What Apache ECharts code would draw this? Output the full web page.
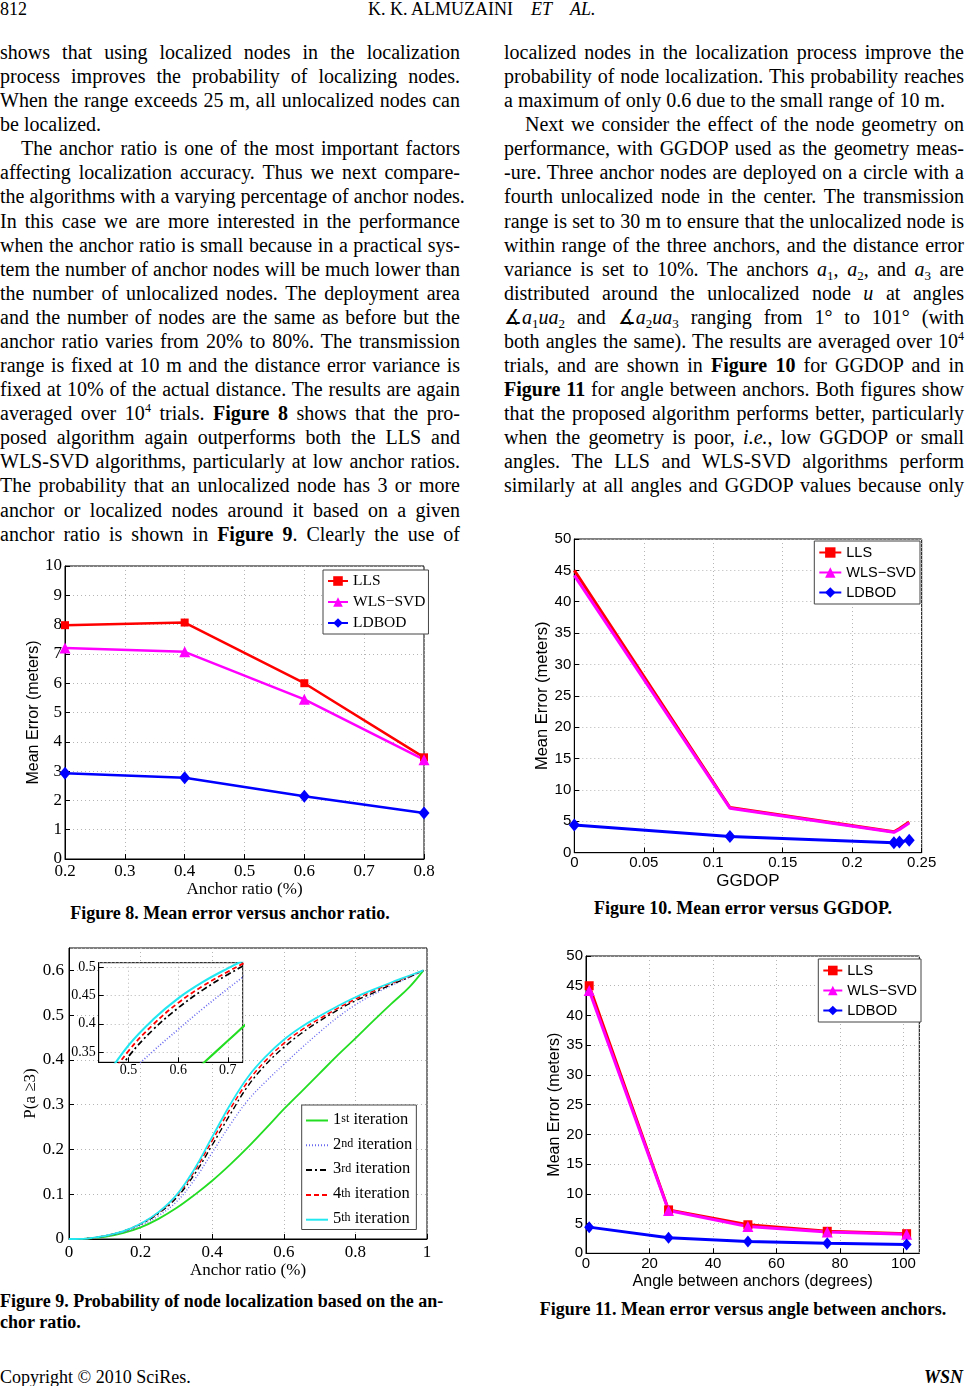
<!DOCTYPE html>
<html><head><meta charset="utf-8">
<script src="https://cdn.jsdelivr.net/npm/echarts@6/dist/echarts.min.js"></script>
<style>
html,body{margin:0;padding:0;background:#fff;}
#page{position:relative;width:966px;height:1386px;overflow:hidden;font-family:"Liberation Serif","Times New Roman",serif;color:#000;}
.ln{position:absolute;font-size:20px;line-height:24.08px;height:24.08px;white-space:nowrap;}
.ln sup{font-size:12px;position:relative;top:-8px;vertical-align:baseline;line-height:0}
.ln sub{font-size:13px;position:relative;top:4px;vertical-align:baseline;line-height:0}
.hd{position:absolute;font-size:18px;line-height:18px;white-space:nowrap;top:0}
.cap{position:absolute;font-weight:bold;font-size:18px;white-space:nowrap;line-height:21px}
#chart{position:absolute;left:0;top:0;width:966px;height:1386px;}
</style></head><body><div id="page">
<div class="hd" style="left:0">812</div>
<div class="hd" style="left:368px">K. K. ALMUZAINI</div>
<div class="hd" style="left:531px;font-style:italic">ET</div>
<div class="hd" style="left:570px;font-style:italic">AL.</div>
<div class="cap" style="left:0;width:460px;text-align:center;top:903.4px">Figure 8. Mean error versus anchor ratio.</div>
<div class="cap" style="left:504px;width:478px;text-align:center;top:898.4px">Figure 10. Mean error versus GGDOP.</div>
<div class="cap" style="left:0;top:1291.4px">Figure 9. Probability of node localization based on the an-</div>
<div class="cap" style="left:0;top:1312.4px">chor ratio.</div>
<div class="cap" style="left:504px;width:478px;text-align:center;top:1299.4px">Figure 11. Mean error versus angle between anchors.</div>
<div class="hd" style="left:0;top:1368px">Copyright © 2010 SciRes.</div>
<div class="hd" style="right:3px;top:1368px;font-weight:bold;font-style:italic">WSN</div>
<div id="chart"></div>
</div>
<script>
// ---------- body text ----------
const leftLines = [
 ["shows that using localized nodes in the localization",1,0],
 ["process improves the probability of localizing nodes.",1,0],
 ["When the range exceeds 25 m, all unlocalized nodes can",1,0],
 ["be localized.",0,0],
 ["The anchor ratio is one of the most important factors",1,1],
 ["affecting localization accuracy. Thus we next compare-",1,0],
 ["the algorithms with a varying percentage of anchor nodes.",1,0],
 ["In this case we are more interested in the performance",1,0],
 ["when the anchor ratio is small because in a practical sys-",1,0],
 ["tem the number of anchor nodes will be much lower than",1,0],
 ["the number of unlocalized nodes. The deployment area",1,0],
 ["and the number of nodes are the same as before but the",1,0],
 ["anchor ratio varies from 20% to 80%. The transmission",1,0],
 ["range is fixed at 10 m and the distance error variance is",1,0],
 ["fixed at 10% of the actual distance. The results are again",1,0],
 ["averaged over 10<sup>4</sup> trials. <b>Figure 8</b> shows that the pro-",1,0],
 ["posed algorithm again outperforms both the LLS and",1,0],
 ["WLS-SVD algorithms, particularly at low anchor ratios.",1,0],
 ["The probability that an unlocalized node has 3 or more",1,0],
 ["anchor or localized nodes around it based on a given",1,0],
 ["anchor ratio is shown in <b>Figure 9</b>. Clearly the use of",1,0]
];
const rightLines = [
 ["localized nodes in the localization process improve the",1,0],
 ["probability of node localization. This probability reaches",1,0],
 ["a maximum of only 0.6 due to the small range of 10 m.",0,0],
 ["Next we consider the effect of the node geometry on",1,1],
 ["performance, with GGDOP used as the geometry meas-",1,0],
 ["-ure. Three anchor nodes are deployed on a circle with a",1,0],
 ["fourth unlocalized node in the center. The transmission",1,0],
 ["range is set to 30 m to ensure that the unlocalized node is",1,0],
 ["within range of the three anchors, and the distance error",1,0],
 ["variance is set to 10%. The anchors <i>a</i><sub>1</sub>, <i>a</i><sub>2</sub>, and <i>a</i><sub>3</sub> are",1,0],
 ["distributed around the unlocalized node <i>u</i> at angles",1,0],
 ["\u2221<i>a</i><sub>1</sub><i>ua</i><sub>2</sub> and \u2221<i>a</i><sub>2</sub><i>ua</i><sub>3</sub> ranging from 1\u00b0 to 101\u00b0 (with",1,0],
 ["both angles the same). The results are averaged over 10<sup>4</sup>",1,0],
 ["trials, and are shown in <b>Figure 10</b> for GGDOP and in",1,0],
 ["<b>Figure 11</b> for angle between anchors. Both figures show",1,0],
 ["that the proposed algorithm performs better, particularly",1,0],
 ["when the geometry is poor, <i>i.e.</i>, low GGDOP or small",1,0],
 ["angles. The LLS and WLS-SVD algorithms perform",1,0],
 ["similarly at all angles and GGDOP values because only",1,0]
];
const page = document.getElementById('page');
function layoutLines(lines, left, width){
  lines.forEach((l,i)=>{
    const d = document.createElement('div');
    d.className='ln';
    const ind = l[2]?21:0;
    d.style.left=(left+ind)+'px';
    d.style.top=(40+i*24.08)+'px';
    d.innerHTML=l[0];
    page.insertBefore(d, document.getElementById('chart'));
    if(l[1]){
      const w=d.getBoundingClientRect().width;
      const n=(d.textContent.match(/ /g)||[]).length;
      const t=width-ind;
      if(n && w<t) d.style.wordSpacing=((t-w)/n)+'px';
    }
  });
}
layoutLines(leftLines,0,460);
layoutLines(rightLines,504,460);

// ---------- chart data ----------
const fig8X = [0.2, 0.4, 0.6, 0.8];
const fig8LLS = [7.98, 8.07, 6.0, 3.47];
const fig8WLS = [7.2, 7.07, 5.45, 3.39];
const fig8LDBOD = [2.93, 2.77, 2.14, 1.57];

const fig9X = [0, 0.05, 0.1, 0.15, 0.2, 0.25, 0.3, 0.35, 0.4, 0.45, 0.5, 0.55, 0.6, 0.65, 0.7, 0.75, 0.8, 0.85, 0.9, 0.95, 0.99];
const fig9It1 = [0, 0.001, 0.005, 0.013, 0.026, 0.045, 0.069, 0.098, 0.13, 0.166, 0.205, 0.247, 0.29, 0.33, 0.37, 0.41, 0.448, 0.487, 0.525, 0.562, 0.6];
const fig9It2 = [0, 0.001, 0.006, 0.015, 0.03, 0.052, 0.083, 0.132, 0.193, 0.255, 0.31, 0.352, 0.39, 0.427, 0.462, 0.495, 0.523, 0.546, 0.566, 0.584, 0.6];
const fig9It3 = [0, 0.001, 0.007, 0.017, 0.033, 0.057, 0.092, 0.144, 0.21, 0.278, 0.342, 0.39, 0.428, 0.46, 0.487, 0.511, 0.532, 0.55, 0.568, 0.585, 0.6];
const fig9It4 = [0, 0.001, 0.007, 0.017, 0.034, 0.059, 0.096, 0.151, 0.22, 0.29, 0.352, 0.399, 0.437, 0.467, 0.492, 0.515, 0.536, 0.554, 0.571, 0.587, 0.6];
const fig9It5 = [0, 0.001, 0.007, 0.017, 0.034, 0.06, 0.098, 0.156, 0.228, 0.3, 0.362, 0.408, 0.445, 0.474, 0.498, 0.52, 0.54, 0.557, 0.573, 0.588, 0.6];
const fig9Ordinals = [['1','st'],['2','nd'],['3','rd'],['4','th'],['5','th']];

const fig10X = [0, 0.112, 0.23, 0.234, 0.241];
const fig10LLS = [45.0, 7.2, 3.35, 3.85, 4.9];
const fig10WLS = [44.2, 7.1, 3.25, 3.7, 4.75];
const fig10LDBOD = [4.4, 2.6, 1.6, 1.7, 2.0];

const fig11X = [1, 26, 51, 76, 101];
const fig11LLS = [45.0, 7.3, 4.8, 3.7, 3.3];
const fig11WLS = [44.2, 7.2, 4.5, 3.6, 3.2];
const fig11LDBOD = [4.4, 2.6, 2.0, 1.7, 1.5];

// ---------- chart ----------
const SERIF='Liberation Serif', SANS='Liberation Sans';
const RED='#ff0000', MAG='#ff00ff', BLU='#0000ff';
function pairs(xs, ys){ return xs.map((x,i)=>[x, ys[i]]); }
function grid(l,t,w,h,extra){ return Object.assign({left:l,top:t,width:w,height:h,show:true,borderColor:'#000',borderWidth:1,outerBoundsMode:'none',containLabel:false}, extra||{}); }
function ax(gi, font, size, o){
  return Object.assign({
    gridIndex:gi, type:'value',
    axisLine:{show:true,lineStyle:{color:'#000',width:1}},
    axisTick:{show:true,inside:true,length:5,lineStyle:{color:'#000'}},
    axisLabel:{color:'#000',fontFamily:font,fontSize:size,margin:4},
    splitLine:{show:true,lineStyle:{type:[1,3],color:'#b5b5b5',width:1}},
    nameLocation:'middle',
    nameTextStyle:{color:'#000',fontFamily:font,fontSize:size+1}
  }, o);
}
const xAxes = [
  ax(0, SERIF, 17, {min:0.2,max:0.8,interval:0.1,name:'Anchor ratio (%)',nameGap:19,axisLabel:{color:'#000',fontFamily:SERIF,fontSize:17,margin:4},nameTextStyle:{color:'#000',fontFamily:SERIF,fontSize:17}}),
  ax(1, SERIF, 17, {min:0,max:1,interval:0.2,name:'Anchor ratio (%)',nameGap:20,axisLabel:{color:'#000',fontFamily:SERIF,fontSize:17,margin:5},nameTextStyle:{color:'#000',fontFamily:SERIF,fontSize:17}}),
  ax(2, SERIF, 14, {min:0.44,max:0.73,splitNumber:3,z:3,axisLabel:{color:'#000',fontFamily:SERIF,fontSize:14,margin:1,showMinLabel:false,showMaxLabel:false}}),
  ax(3, SANS, 15, {min:0,max:0.25,interval:0.05,name:'GGDOP',nameGap:20,axisLabel:{color:'#000',fontFamily:SANS,fontSize:15,margin:3},nameTextStyle:{color:'#000',fontFamily:SANS,fontSize:17}}),
  ax(4, SANS, 15, {min:0,max:105,interval:20,name:'Angle between anchors (degrees)',nameGap:20,nameTextStyle:{color:'#000',fontFamily:SANS,fontSize:16},axisLabel:{color:'#000',fontFamily:SANS,fontSize:15,margin:3,showMaxLabel:false}})
];
const yAxes = [
  ax(0, SERIF, 17, {min:0,max:10,interval:1,name:'Mean Error (meters)',nameGap:20,axisLabel:{color:'#000',fontFamily:SERIF,fontSize:17,margin:3},nameTextStyle:{color:'#000',fontFamily:SANS,fontSize:16}}),
  ax(1, SERIF, 17, {min:0,max:0.65,interval:0.1,name:'P(a \u22653)',nameGap:29,axisLabel:{color:'#000',fontFamily:SERIF,fontSize:17,margin:5,showMaxLabel:false},nameTextStyle:{color:'#000',fontFamily:SERIF,fontSize:17}}),
  ax(2, SERIF, 14, {min:0.332,max:0.508,splitNumber:4,z:3,axisLabel:{color:'#000',fontFamily:SERIF,fontSize:14,margin:3,showMinLabel:false,showMaxLabel:false}}),
  ax(3, SANS, 15, {min:0,max:50,interval:5,name:'Mean Error (meters)',nameGap:23,axisLabel:{color:'#000',fontFamily:SANS,fontSize:15,margin:3},nameTextStyle:{color:'#000',fontFamily:SANS,fontSize:16.5}}),
  ax(4, SANS, 15, {min:0,max:50,interval:5,name:'Mean Error (meters)',nameGap:21,axisLabel:{color:'#000',fontFamily:SANS,fontSize:15,margin:3},nameTextStyle:{color:'#000',fontFamily:SANS,fontSize:16}})
];
function mk(name, xi, data, color, symbol, size, width, extra){
  return Object.assign({
    name:name, type:'line', xAxisIndex:xi, yAxisIndex:xi, data:data,
    symbol:symbol, symbolSize:size, showSymbol:symbol!=='none',
    itemStyle:{color:color}, lineStyle:{color:color,width:width},
    emphasis:{disabled:true}, animation:false, clip:true
  }, extra||{});
}
const series = [
  mk('f8|LLS',0,pairs(fig8X,fig8LLS),RED,'rect',8,2.5),
  mk('f8|WLS\u2212SVD',0,pairs(fig8X,fig8WLS),MAG,'triangle',11,2.5),
  mk('f8|LDBOD',0,pairs(fig8X,fig8LDBOD),BLU,'diamond',[11,13],2.5),
];
const f9styles = [
  {color:'#22dd22',type:'solid',width:1.8},
  {color:'#6a6af0',type:[1,2],width:1.4},
  {color:'#000000',type:[6,3,2,3],width:1.4},
  {color:'#ff0000',type:[5,3],width:1.5},
  {color:'#22e8f2',type:'solid',width:1.8}
];
const f9data = [fig9It1,fig9It2,fig9It3,fig9It4,fig9It5];
f9data.forEach((d,i)=>{
  const st=f9styles[i];
  series.push({name:'f9|'+i,type:'line',xAxisIndex:1,yAxisIndex:1,data:pairs(fig9X,d),symbol:'none',smooth:0.4,
    itemStyle:{color:st.color},lineStyle:{color:st.color,type:st.type,width:st.width},emphasis:{disabled:true},animation:false});
});
f9data.forEach((d,i)=>{
  const st=f9styles[i];
  series.push({name:'f9in|'+i,type:'line',xAxisIndex:2,yAxisIndex:2,data:pairs(fig9X,d),symbol:'none',smooth:0.4,z:4,clip:true,
    itemStyle:{color:st.color},lineStyle:{color:st.color,type:st.type,width:st.width+0.3},emphasis:{disabled:true},animation:false});
});
series.push(
  mk('f10|LLS',3,pairs(fig10X,fig10LLS),RED,'rect',9,3,{showSymbol:false}),
  mk('f10|WLS\u2212SVD',3,pairs(fig10X,fig10WLS),MAG,'triangle',11,3,{showSymbol:false}),
  mk('f10|LDBOD',3,pairs(fig10X,fig10LDBOD),BLU,'diamond',[11,13],3),
  mk('f11|LLS',4,pairs(fig11X,fig11LLS),RED,'rect',9,3),
  mk('f11|WLS\u2212SVD',4,pairs(fig11X,fig11WLS),MAG,'triangle',11,3),
  mk('f11|LDBOD',4,pairs(fig11X,fig11LDBOD),BLU,'diamond',[10,12],3)
);
function leg(names, left, top, font, size, ih, gap, iw, pad){
  return {data:names, orient:'vertical', left:left, top:top, itemWidth:iw, itemHeight:ih, itemGap:gap,
    padding:pad, backgroundColor:'#fff', borderColor:'#444', borderWidth:1, borderRadius:0, selectedMode:false,
    formatter:n=>n.split('|')[1], textStyle:{fontFamily:font,fontSize:size,color:'#000'}};
}
const legends = [
  leg(['f8|LLS','f8|WLS\u2212SVD','f8|LDBOD'],323,570,SERIF,15.5,12,5,20,[3,3,3,4]),
  Object.assign(leg(['f9|0','f9|1','f9|2','f9|3','f9|4'],301.7,1105,SERIF,16,19.5,3.5,22,[2,4,2,3.3]),{
    itemStyle:{opacity:0},
    formatter:n=>{const o=fig9Ordinals[+n.split('|')[1]];return '{n|'+o[0]+'}{s|'+o[1]+'}{n| iteration}';},
    textStyle:{fontFamily:SERIF,fontSize:16.5,color:'#000',rich:{
      n:{fontFamily:SERIF,fontSize:16.5,lineHeight:15,padding:[4,0,0,0],verticalAlign:'bottom',color:'#000'},
      s:{fontFamily:SERIF,fontSize:12,lineHeight:11,verticalAlign:'top',color:'#000'}}}
  }),
  leg(['f10|LLS','f10|WLS\u2212SVD','f10|LDBOD'],814.3,541,SANS,14.5,13,5,22,[4,4,4,4]),
  leg(['f11|LLS','f11|WLS\u2212SVD','f11|LDBOD'],818.3,959,SANS,14.5,12,5,19,[4,4,4,4])
];
const chart = echarts.init(document.getElementById('chart'), null, {renderer:'canvas'});
chart.setOption({
  animation:false,
  backgroundColor:'transparent',
  grid:[
    grid(65,566,359,293),
    grid(69,948,358,291),
    grid(98.7,962.7,144,99.6,{backgroundColor:'#fff',z:2}),
    grid(574.3,539,347.4,313.7),
    grid(586,956,333.3,297.3)
  ],
  xAxis:xAxes, yAxis:yAxes, legend:legends, series:series
});
</script>
</body></html>
